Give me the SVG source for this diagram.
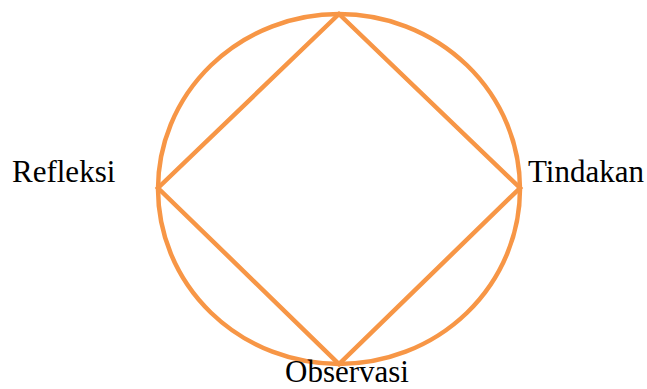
<svg xmlns="http://www.w3.org/2000/svg" width="647" height="389" viewBox="0 0 647 389">
<style>
.shape{fill:none;stroke:#F79646;stroke-width:4.5;stroke-linejoin:miter}
.lbl{font-family:"Liberation Serif","Times New Roman",serif;font-size:31px;fill:#000}
</style>
<rect width="647" height="389" fill="#fff"/>
<g id="cycle">
<ellipse class="shape" cx="339" cy="189" rx="181" ry="175"/>
</g>
<g id="connectors">
<polygon class="shape" points="339,14 520,188 339,364 158,188"/>
</g>
<g id="refleksi"><text class="lbl" x="12" y="182">Refleksi</text></g>
<g id="tindakan"><text class="lbl" x="528" y="182">Tindakan</text></g>
<g id="observasi"><text class="lbl" x="285" y="382">Observasi</text></g>
</svg>
